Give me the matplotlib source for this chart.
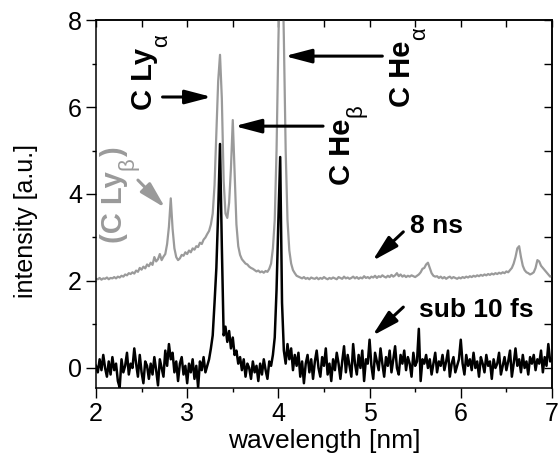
import numpy as np
import matplotlib
matplotlib.use("Agg")
import matplotlib.pyplot as plt
from matplotlib.ticker import MultipleLocator

plt.rcParams['font.family'] = ['Liberation Sans', 'DejaVu Sans']

# wavelength grid of the spectrometer, 0.02 nm sampling from 2 to 7 nm
wavelength = np.linspace(2.0, 7.0, 251)

# 8 ns pulse spectrum (offset by +2)
spec_8ns = [
    2.05, 2.04, 2.07, 2.03, 2.06, 2.05, 2.08, 2.04, 2.07, 2.06,
    2.09, 2.06, 2.10, 2.08, 2.12, 2.10, 2.15, 2.13, 2.18, 2.16,
    2.20, 2.17, 2.24, 2.21, 2.30, 2.26, 2.33, 2.29, 2.38, 2.34,
    2.42, 2.37, 2.55, 2.45, 2.50, 2.62, 2.48, 2.56, 2.62, 2.85,
    3.25, 3.90, 3.20, 2.75, 2.55, 2.48, 2.52, 2.60, 2.58, 2.66,
    2.62, 2.70, 2.66, 2.75, 2.72, 2.80, 2.78, 2.88, 2.85, 2.95,
    3.00, 3.08, 3.15, 3.30, 3.55, 4.20, 5.40, 6.60, 7.20, 6.20,
    4.30, 3.55, 3.45, 3.80, 4.60, 5.70, 4.50, 3.30, 2.80, 2.60,
    2.50, 2.45, 2.40, 2.38, 2.33, 2.30, 2.28, 2.25, 2.22, 2.24,
    2.20, 2.22, 2.19, 2.23, 2.21, 2.28, 2.40, 2.75, 3.40, 5.00,
    7.50, 9.50, 9.80, 7.60, 5.00, 3.40, 2.70, 2.40, 2.25, 2.18,
    2.12, 2.10, 2.08, 2.06, 2.09, 2.05, 2.07, 2.04, 2.08, 2.06,
    2.05, 2.08, 2.04, 2.07, 2.05, 2.09, 2.06, 2.04, 2.07, 2.05,
    2.08, 2.06, 2.04, 2.09, 2.07, 2.05, 2.10, 2.06, 2.08, 2.05,
    2.07, 2.10, 2.06, 2.09, 2.05, 2.08, 2.06, 2.11, 2.07, 2.09,
    2.06, 2.10, 2.08, 2.12, 2.07, 2.11, 2.09, 2.13, 2.10, 2.08,
    2.12, 2.09, 2.14, 2.10, 2.13, 2.18, 2.11, 2.15, 2.10, 2.13,
    2.09, 2.12, 2.10, 2.13, 2.11, 2.09, 2.12, 2.15, 2.20, 2.28,
    2.30, 2.38, 2.42, 2.30, 2.18, 2.12, 2.10, 2.11, 2.07, 2.10,
    2.06, 2.09, 2.05, 2.08, 2.10, 2.06, 2.09, 2.07, 2.05, 2.08,
    2.06, 2.09, 2.07, 2.10, 2.08, 2.11, 2.09, 2.12, 2.10, 2.13,
    2.11, 2.14, 2.12, 2.15, 2.13, 2.16, 2.14, 2.17, 2.15, 2.18,
    2.16, 2.19, 2.17, 2.20, 2.18, 2.22, 2.20, 2.25, 2.30, 2.40,
    2.55, 2.75, 2.80, 2.55, 2.35, 2.25, 2.20, 2.18, 2.15, 2.17,
    2.20, 2.30, 2.48, 2.45, 2.35, 2.30, 2.25, 2.20, 2.15, 2.10,
    2.12,
]

# sub-10 fs pulse spectrum
spec_10fs = [
    0.05, -0.10, 0.20, -0.05, 0.30, 0.00, -0.20, 0.15, -0.15, 0.25,
    -0.05, 0.10, -0.30, -0.45, 0.20, -0.10, 0.05, 0.35, -0.15, 0.10,
    0.00, 0.45, 0.10, -0.20, 0.30, -0.10, -0.35, 0.15, 0.05, -0.25,
    0.10, -0.15, 0.25, -0.05, -0.40, 0.20, 0.00, -0.20, 0.40, 0.05,
    0.55, 0.20, 0.35, -0.10, 0.15, -0.30, 0.10, 0.25, -0.15, 0.05,
    -0.35, 0.10, -0.10, 0.20, -0.25, 0.05, -0.45, 0.15, -0.05, 0.25,
    -0.10, 0.05, 0.20, 0.45, 0.75, 1.50, 2.30, 3.60, 5.15, 2.80,
    0.75, 0.95, 0.60, 0.85, 0.45, 0.70, 0.30, 0.40, 0.10, 0.25,
    -0.05, 0.20, -0.20, 0.10, 0.00, -0.25, 0.15, -0.10, 0.05, -0.30,
    0.10, -0.15, 0.20, -0.05, -0.25, 0.15, 0.05, 0.30, 0.70, 1.80,
    3.40, 4.85, 1.50, 0.40, 0.10, 0.55, 0.20, 0.45, -0.05, 0.30,
    0.05, 0.35, -0.20, 0.15, -0.35, 0.10, 0.30, -0.10, 0.20, -0.25,
    0.15, 0.40, 0.00, -0.20, 0.25, 0.05, 0.45, -0.15, 0.10, -0.30,
    0.20, -0.05, 0.35, 0.10, -0.25, 0.15, 0.50, -0.10, 0.30, 0.05,
    -0.20, 0.55, 0.10, -0.15, 0.30, 0.00, 0.40, -0.30, 0.20, 0.10,
    0.65, 0.05, -0.25, 0.35, 0.15, -0.05, 0.45, 0.10, -0.20, 0.25,
    0.05, 0.40, -0.10, 0.20, 0.50, 0.00, -0.15, 0.30, 0.10, 0.40,
    -0.05, 0.25, 0.10, -0.20, 0.35, 0.05, 0.15, 0.90, -0.30, 0.20,
    0.10, 0.30, 0.00, 0.20, -0.15, 0.10, 0.35, -0.10, 0.15, 0.05,
    0.30, -0.05, 0.15, 0.40, -0.20, 0.10, 0.25, -0.10, 0.05, 0.20,
    0.65, 0.10, -0.15, 0.30, 0.05, 0.20, -0.05, 0.35, 0.00, 0.15,
    -0.20, 0.25, 0.10, -0.10, 0.30, 0.05, 0.15, -0.25, 0.20, 0.00,
    0.10, 0.35, -0.15, 0.05, 0.25, -0.05, 0.15, 0.40, -0.20, 0.10,
    0.45, 0.05, 0.20, -0.10, 0.30, 0.00, 0.15, -0.15, 0.25, 0.10,
    0.30, -0.05, 0.20, 0.10, 0.40, -0.10, 0.25, 0.05, 0.55, 0.15,
    0.20,
]

x_ticks = [2, 3, 4, 5, 6, 7]
y_ticks = [0, 2, 4, 6, 8]

GRAY = '#9a9a9a'

fig = plt.figure(figsize=(5.58, 4.59), dpi=100)
ax = fig.add_axes([0.1720, 0.1547, 0.8172, 0.8017])

ax.plot(wavelength, spec_8ns, color=GRAY, lw=1.6, zorder=2)
ax.plot(wavelength, spec_10fs, color='black', lw=1.8, zorder=3)

ax.set_xlim(2, 7)
ax.set_ylim(-0.46, 8.0)
ax.set_xticks(x_ticks)
ax.set_yticks(y_ticks)
ax.xaxis.set_minor_locator(MultipleLocator(0.5))
ax.yaxis.set_minor_locator(MultipleLocator(1))

for s in ax.spines.values():
    s.set_linewidth(1.1)

ax.tick_params(which='major', direction='out', length=7, width=1.0,
               labelsize=18, pad=3)
ax.tick_params(which='minor', direction='out', length=3, width=1.0)

# inward ticks on top and right
top = ax.secondary_xaxis('top')
top.set_xticks(x_ticks)
top.xaxis.set_minor_locator(MultipleLocator(0.5))
top.tick_params(which='both', direction='in', length=5, width=1.0,
                labeltop=False)
top.set_xticklabels([])
right = ax.secondary_yaxis('right')
right.set_yticks(y_ticks)
right.yaxis.set_minor_locator(MultipleLocator(1))
right.tick_params(which='both', direction='in', length=6, width=1.0,
                  labelright=False)
right.set_yticklabels([])
for sec in (top, right):
    for s in sec.spines.values():
        s.set_linewidth(1.1)

ax.set_xlabel('wavelength [nm]', fontsize=19, labelpad=2)
fig.text(26 / 558, 1 - 221 / 459, 'intensity [a.u.]', fontsize=18,
         rotation=90, ha='center', va='center')

arrow_kw = dict(arrowstyle='-|>,head_length=1.6,head_width=0.42',
                mutation_scale=10, lw=2.2, shrinkA=0, shrinkB=0)

def arrow(x0, y0, x1, y1, color='black'):
    ax.annotate('', xy=(x1, y1), xytext=(x0, y0),
                arrowprops=dict(color=color, **arrow_kw), zorder=5)

arrow(2.73, 6.23, 3.27, 6.23)
arrow(4.49, 5.56, 3.52, 5.56)
arrow(5.14, 7.17, 4.07, 7.17)
arrow(2.46, 4.32, 2.76, 3.68, color=GRAY)
arrow(5.37, 3.13, 5.03, 2.46)
arrow(5.37, 1.40, 5.03, 0.74)

# vertical line labels with a subscript set right of the baseline
fig.canvas.draw()
renderer = fig.canvas.get_renderer()
to_data = ax.transData.inverted()

def vlabel(x, y, main, sub, tail='', color='black', sub_shift=15):
    kw = dict(rotation=90, rotation_mode='anchor', ha='left',
              va='baseline', color=color)
    t = ax.text(x, y, main, fontsize=21, fontweight='bold', **kw)
    bb = t.get_window_extent(renderer)
    px, _ = ax.transData.transform((x, y))
    sx, sy = to_data.transform((px + sub_shift, bb.y1 + 1))
    s = ax.text(sx, sy, sub, fontsize=16, **kw)
    if tail:
        sb = s.get_window_extent(renderer)
        tx, ty = to_data.transform((px, sb.y1 + 1))
        ax.text(tx, ty, tail, fontsize=21, fontweight='bold', **kw)

vlabel(2.614, 5.93, 'C Ly', '\u03b1')
vlabel(4.785, 4.21, 'C He', '\u03b2', sub_shift=12)
vlabel(5.443, 6.00, 'C He', '\u03b1')
vlabel(2.285, 2.87, '(C Ly', '\u03b2', tail=')', color=GRAY, sub_shift=12)

ax.text(5.44, 3.10, '8 ns', fontsize=19, fontweight='bold',
        ha='left', va='baseline')
ax.text(5.54, 1.17, 'sub 10 fs', fontsize=19, fontweight='bold',
        ha='left', va='baseline')

fig.savefig('out.png', dpi=100)
